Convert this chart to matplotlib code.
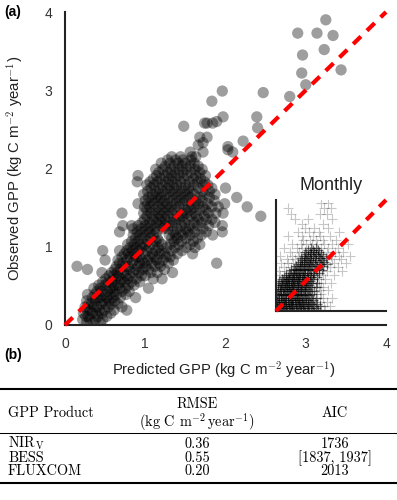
import numpy as np
import matplotlib
matplotlib.use("Agg")
from matplotlib import pyplot as plt
from matplotlib.lines import Line2D

plt.rcParams['font.family'] = ['Liberation Sans', 'DejaVu Sans']
plt.rcParams['mathtext.fontset'] = 'cm'

# Annual GPP: dense cloud read row by row (observed value -> predicted values)
cloud_rows = {
    0.03: [0.27, 0.35, 0.44],
    0.07: [0.22, 0.31, 0.38, 0.47],
    0.11: [0.26, 0.29, 0.41, 0.52],
    0.15: [0.23, 0.34, 0.39, 0.46, 0.57],
    0.19: [0.28, 0.31, 0.43, 0.49, 0.61, 0.77],
    0.23: [0.25, 0.36, 0.40, 0.54, 0.71],
    0.27: [0.30, 0.33, 0.45, 0.51, 0.58, 0.66],
    0.31: [0.27, 0.38, 0.47, 0.55, 0.62],
    0.35: [0.34, 0.41, 0.44, 0.52, 0.60, 0.69, 0.88],
    0.39: [0.28, 0.37, 0.49, 0.57, 0.64, 0.76],
    0.43: [0.40, 0.46, 0.53, 0.62, 0.71, 0.80],
    0.47: [0.36, 0.44, 0.56, 0.59, 0.68, 0.75, 1.04],
    0.51: [0.42, 0.50, 0.61, 0.66, 0.79, 0.86],
    0.55: [0.47, 0.54, 0.58, 0.69, 0.74, 0.83, 0.93],
    0.59: [0.51, 0.63, 0.70, 0.78, 0.89, 1.10, 1.21],
    0.63: [0.55, 0.60, 0.67, 0.76, 0.81, 0.95, 1.00],
    0.67: [0.46, 0.58, 0.65, 0.73, 0.85, 0.92, 1.07, 1.15, 1.34],
    0.71: [0.28, 0.62, 0.69, 0.80, 0.88, 0.97, 1.04, 1.24],
    0.75: [0.15, 0.64, 0.75, 0.79, 0.91, 1.01, 1.12, 1.19],
    0.79: [0.68, 0.72, 0.84, 0.93, 0.99, 1.08, 1.17, 1.29, 1.89],
    0.83: [0.50, 0.66, 0.77, 0.86, 0.96, 1.03, 1.14, 1.22, 1.35],
    0.87: [0.71, 0.81, 0.89, 0.93, 1.06, 1.11, 1.26, 1.31],
    0.91: [0.74, 0.79, 0.87, 0.99, 1.09, 1.18, 1.24, 1.40, 1.59],
    0.95: [0.47, 0.68, 0.77, 0.84, 0.92, 1.02, 1.13, 1.20, 1.33, 1.46],
    0.99: [0.81, 0.89, 0.96, 1.05, 1.16, 1.27, 1.37, 1.51, 1.62],
    1.03: [0.78, 0.86, 0.94, 1.00, 1.09, 1.21, 1.31, 1.42, 1.56, 1.68],
    1.07: [0.83, 0.91, 1.03, 1.13, 1.17, 1.36, 1.45, 1.60],
    1.11: [0.88, 0.97, 1.06, 1.15, 1.33, 1.40, 1.51, 1.65],
    1.15: [0.85, 0.93, 1.01, 1.10, 1.30, 1.38, 1.47, 1.56, 1.70, 1.84],
    1.19: [0.68, 0.90, 0.98, 1.06, 1.14, 1.35, 1.44, 1.53, 1.62, 1.76, 1.96],
    1.23: [0.85, 0.95, 1.04, 1.12, 1.22, 1.28, 1.40, 1.50, 1.59, 1.72],
    1.27: [0.72, 0.83, 0.91, 1.00, 1.08, 1.18, 1.25, 1.33, 1.45, 1.55, 1.65, 1.79, 1.96],
    1.31: [0.96, 1.05, 1.14, 1.21, 1.30, 1.38, 1.49, 1.61, 1.70, 1.87],
    1.35: [0.99, 1.09, 1.17, 1.25, 1.35, 1.43, 1.53, 1.66, 1.76, 1.83],
    1.39: [1.02, 1.11, 1.20, 1.28, 1.40, 1.47, 1.57, 1.64, 1.74, 2.44],
    1.43: [0.71, 0.98, 1.07, 1.16, 1.24, 1.33, 1.45, 1.52, 1.62, 1.79, 1.88, 1.97],
    1.47: [1.02, 1.12, 1.20, 1.29, 1.37, 1.49, 1.57, 1.68, 1.75],
    1.51: [0.99, 1.06, 1.16, 1.25, 1.33, 1.42, 1.54, 1.61, 1.72, 1.83, 1.91, 2.27],
    1.55: [0.91, 1.03, 1.11, 1.21, 1.28, 1.38, 1.47, 1.58, 1.66, 1.78, 1.99],
    1.59: [1.00, 1.08, 1.16, 1.24, 1.34, 1.43, 1.51, 1.63, 1.71, 1.86],
    1.63: [1.04, 1.13, 1.20, 1.30, 1.39, 1.48, 1.56, 1.68, 1.80, 2.14],
    1.67: [0.98, 1.09, 1.17, 1.26, 1.35, 1.44, 1.53, 1.61, 1.74, 1.87],
    1.71: [1.03, 1.13, 1.22, 1.31, 1.40, 1.49, 1.58, 1.71, 1.80],
    1.75: [1.07, 1.17, 1.27, 1.36, 1.45, 1.54, 1.66, 1.83, 2.00],
    1.79: [1.02, 1.11, 1.21, 1.30, 1.39, 1.50, 1.60, 1.72, 1.78],
    1.83: [0.90, 1.06, 1.15, 1.25, 1.34, 1.44, 1.55, 1.65, 1.74],
    1.87: [1.10, 1.19, 1.29, 1.38, 1.48, 1.60, 1.69],
    1.91: [0.91, 1.14, 1.24, 1.33, 1.42, 1.52, 1.63, 1.75],
    1.95: [1.17, 1.28, 1.37, 1.47, 1.57, 1.68],
    1.99: [1.13, 1.22, 1.32, 1.42, 1.51, 1.62, 1.71],
    2.03: [1.25, 1.36, 1.46, 1.56, 1.66],
    2.07: [1.20, 1.31, 1.41, 1.50, 1.61],
    2.11: [1.28, 1.38, 1.47, 1.57],
    2.15: [1.33, 1.44, 1.58, 1.63],
}

# Annual GPP: scattered points above the cloud
sparse_pred = [1.56, 1.72, 1.66, 1.72, 1.68, 1.77, 2.03, 2.03, 2.09, 2.22, 1.48,
               1.74, 1.77, 1.84, 1.89, 1.97, 2.39, 2.40, 1.83, 1.96, 2.47,
               3.25, 2.90, 3.14, 3.34, 3.23, 2.96, 3.44, 2.95, 3.00, 2.80]
sparse_obs = [2.21, 2.21, 2.30, 2.33, 2.40, 2.40, 2.24, 2.28, 2.21, 2.35, 2.54,
              2.58, 2.58, 2.58, 2.60, 2.66, 2.66, 2.52, 2.86, 2.99, 2.97,
              3.90, 3.73, 3.73, 3.70, 3.52, 3.45, 3.26, 3.22, 3.07, 2.92]

# Monthly GPP inset: dense core and lighter surrounding crosses
monthly_dense = {
    0.04: [0.04, 0.17, 0.26, 0.41, 0.50, 0.66, 0.75, 0.92, 1.03, 1.18, 1.34, 1.52],
    0.11: [0.09, 0.21, 0.35, 0.46, 0.58, 0.71, 0.86, 0.97, 1.12, 1.26, 1.44],
    0.18: [0.03, 0.14, 0.30, 0.38, 0.54, 0.63, 0.80, 0.91, 1.07, 1.21, 1.37, 1.60],
    0.26: [0.10, 0.24, 0.33, 0.49, 0.60, 0.74, 0.85, 1.00, 1.15, 1.30, 1.48],
    0.33: [0.05, 0.19, 0.28, 0.44, 0.55, 0.69, 0.82, 0.94, 1.09, 1.24],
    0.41: [0.12, 0.23, 0.37, 0.51, 0.62, 0.77, 0.88, 1.03, 1.17, 1.33],
    0.48: [0.06, 0.17, 0.31, 0.43, 0.57, 0.70, 0.81, 0.96, 1.10, 1.27, 1.45],
    0.56: [0.11, 0.26, 0.36, 0.50, 0.64, 0.75, 0.90, 1.04, 1.19],
    0.63: [0.04, 0.18, 0.30, 0.45, 0.56, 0.71, 0.84, 0.98, 1.13, 1.30],
    0.71: [0.13, 0.24, 0.39, 0.52, 0.63, 0.79, 0.92, 1.06, 1.22, 1.38],
    0.78: [0.07, 0.20, 0.34, 0.46, 0.60, 0.73, 0.86, 1.01, 1.15],
    0.86: [0.15, 0.28, 0.41, 0.55, 0.67, 0.81, 0.95, 1.10, 1.27, 1.44],
    0.93: [0.09, 0.23, 0.36, 0.49, 0.62, 0.76, 0.90, 1.04, 1.19],
    1.01: [0.17, 0.31, 0.44, 0.58, 0.70, 0.85, 0.99, 1.13, 1.30, 1.50],
    1.08: [0.12, 0.26, 0.39, 0.53, 0.66, 0.80, 0.94, 1.08, 1.24],
    1.16: [0.22, 0.35, 0.48, 0.62, 0.75, 0.89, 1.03, 1.18, 1.36],
    1.23: [0.30, 0.44, 0.57, 0.71, 0.84, 0.98, 1.13, 1.29, 1.48],
    1.31: [0.38, 0.52, 0.66, 0.79, 0.93, 1.07, 1.22, 1.40],
    1.38: [0.47, 0.61, 0.74, 0.88, 1.02, 1.17, 1.33, 1.55],
    1.46: [0.55, 0.69, 0.83, 0.97, 1.12, 1.27, 1.45, 1.66],
    1.53: [0.64, 0.78, 0.92, 1.06, 1.21, 1.37, 1.58],
    1.61: [0.72, 0.86, 1.01, 1.16, 1.31, 1.49, 1.70],
    1.68: [0.79, 0.94, 1.09, 1.25, 1.42, 1.62, 1.84],
    1.76: [0.88, 1.03, 1.19, 1.36, 1.55, 1.75],
    1.83: [0.96, 1.12, 1.29, 1.47, 1.67],
    1.91: [0.92, 1.06, 1.23, 1.41, 1.60, 1.81],
    1.98: [1.01, 1.17, 1.35, 1.53, 1.72],
    2.06: [1.10, 1.28, 1.46, 1.65],
    2.13: [1.05, 1.22, 1.40, 1.58],
    2.21: [1.15, 1.33, 1.52],
    2.28: [1.26, 1.44],
}
monthly_light = {
    0.05: [1.62, 1.80],
    0.18: [1.75, 1.95],
    0.32: [1.42, 1.60, 1.85],
    0.46: [1.60, 1.70, 2.05],
    0.60: [1.48, 1.65],
    0.74: [1.60, 1.90],
    0.88: [1.58, 1.72],
    1.02: [1.62, 2.00],
    1.16: [1.58, 1.80],
    1.30: [0.15, 1.70, 2.10],
    1.44: [0.10, 0.35, 1.85, 2.40],
    1.58: [0.30, 0.55, 1.95, 2.25],
    1.72: [0.20, 0.45, 0.62, 2.10, 2.55],
    1.86: [0.40, 0.70, 2.05, 2.35],
    2.00: [0.15, 0.60, 0.80, 2.00, 2.30, 2.70],
    2.14: [0.50, 0.85, 1.85, 2.15, 2.45],
    2.28: [0.30, 0.75, 0.95, 1.65, 1.90, 2.25],
    2.42: [0.60, 0.90, 1.10, 1.30, 1.50, 1.75, 2.05, 2.60],
    2.56: [1.00, 1.25, 1.45, 1.70, 2.20],
    2.70: [0.45, 0.95, 1.35, 1.60, 1.95],
    2.85: [0.80, 1.20, 1.55, 2.30],
    3.00: [1.05, 1.40, 1.90],
    3.15: [0.95, 1.70],
    3.30: [0.70, 1.15, 2.05],
    3.50: [0.55, 1.60, 1.85],
    3.70: [0.45, 1.75, 2.00],
    3.90: [1.65, 1.90],
}

one_to_one = [0, 4]
ticks = [0, 1, 2, 3, 4]

# Table (b)
products = [r'NIR$_\mathrm{V}$', 'BESS', 'FLUXCOM']
rmse = ['0.36', '0.55', '0.20']
aic = ['1736', '[1837, 1937]', '2013']


def expand(rows):
    xs, ys = [], []
    for y, row in rows.items():
        xs.extend(row)
        ys.extend([y] * len(row))
    return np.array(xs), np.array(ys)


fig = plt.figure(figsize=(3.97, 5.0), dpi=100)

# Main scatter
ax = fig.add_axes([0.1637, 0.35, 0.8086, 0.626])
cx, cy = expand(cloud_rows)
pred = np.concatenate([cx, sparse_pred])
obs = np.concatenate([cy, sparse_obs])
ax.scatter(pred, obs, s=66, color='black', alpha=0.38, edgecolors='none', zorder=2)
ax.plot(one_to_one, one_to_one, color='red', lw=3, dashes=(2.6, 2.0),
        solid_capstyle='butt', zorder=3, clip_on=False)
ax.set_xlim(0, 4)
ax.set_ylim(0, 4)
ax.set_xticks(ticks)
ax.set_yticks(ticks)
ax.tick_params(length=0, pad=9, labelsize=10, labelcolor='#333333')
for side in ['top', 'right']:
    ax.spines[side].set_visible(False)
for side in ['left', 'bottom']:
    ax.spines[side].set_linewidth(1.5)
    ax.spines[side].set_color('#222222')

fig.text(15 / 397, 1 - 168 / 500, r'Observed GPP (kg C m$^{-2}$ year$^{-1}$)',
         rotation=90, ha='center', va='center', fontsize=10.7, color='#222222')
fig.text(224 / 397, 1 - 370 / 500, r'Predicted GPP (kg C m$^{-2}$ year$^{-1}$)',
         ha='center', va='center', fontsize=10.7, color='#222222')
fig.text(4 / 397, 1 - 12 / 500, '(a)', fontsize=10, fontweight='bold', va='center')

# Monthly inset
axi = fig.add_axes([0.6952, 0.378, 0.2771, 0.222])
dx, dy = expand(monthly_dense)
lx, ly = expand(monthly_light)
axi.scatter(lx, ly, marker='+', s=55, color='black', alpha=0.22, linewidths=0.8)
axi.scatter(dx, dy, marker='+', s=55, color='black', alpha=0.55, linewidths=0.9)
axi.plot(one_to_one, one_to_one, color='red', lw=3, dashes=(2.4, 2.0),
         solid_capstyle='butt', zorder=3, clip_on=False)
axi.set_xlim(0, 4)
axi.set_ylim(0, 4)
axi.set_xticks([])
axi.set_yticks([])
axi.patch.set_alpha(0)
for side in ['top', 'right']:
    axi.spines[side].set_visible(False)
for side in ['left', 'bottom']:
    axi.spines[side].set_linewidth(1.5)
    axi.spines[side].set_color('#222222')
fig.text(331 / 397, 1 - 186 / 500, 'Monthly', ha='center', va='center',
         fontsize=13, color='#222222')

# Table (b)
fig.text(4 / 397, 1 - 355 / 500, '(b)', fontsize=10, fontweight='bold', va='center')
for y, lw in [(389, 1.5), (433, 0.75), (483, 1.5)]:
    fig.add_artist(Line2D([0, 1], [1 - y / 500] * 2, transform=fig.transFigure,
                          lw=lw, color='black'))

tfont = dict(fontsize=10.3, family='cmr10', va='center')
col_x = [8 / 397, 197 / 397, 335 / 397]
fig.text(col_x[0], 1 - 413 / 500, 'GPP Product', ha='left', **tfont)
fig.text(col_x[1], 1 - 404 / 500, 'RMSE', ha='center', **tfont)
fig.text(col_x[1], 1 - 422 / 500, r'(kg C m$^{-2}\,$year$^{-1}$)', ha='center', **tfont)
fig.text(col_x[2], 1 - 413 / 500, 'AIC', ha='center', **tfont)

# table body rows aligned on a common baseline
rfont = dict(fontsize=10.3, family='cmr10', va='baseline')
for i, base_y in enumerate([448, 462, 475]):
    fig.text(col_x[0], 1 - base_y / 500, products[i], ha='left', **rfont)
    fig.text(col_x[1], 1 - base_y / 500, rmse[i], ha='center', **rfont)
    fig.text(col_x[2], 1 - base_y / 500, aic[i], ha='center', **rfont)

plt.savefig('out.png', dpi=100)
